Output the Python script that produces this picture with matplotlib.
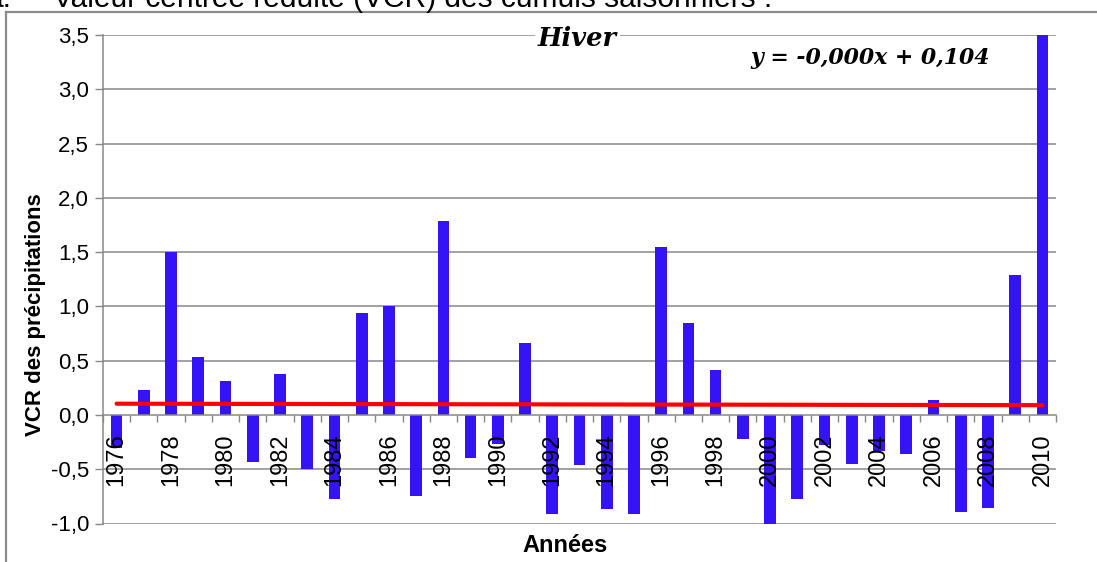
import matplotlib.pyplot as plt
from matplotlib.lines import Line2D
import numpy as np

plt.rcParams['font.family'] = ['Liberation Sans', 'DejaVu Sans']

# winter precipitation, standardised anomaly (VCR) per year
years = list(range(1976, 2011))
vcr = [-0.30, 0.23, 1.50, 0.53, 0.31, -0.43, 0.38, -0.50, -0.77, 0.94,
       1.00, -0.75, 1.79, -0.40, -0.27, 0.66, -0.91, -0.46, -0.87, -0.91,
       1.55, 0.85, 0.41, -0.22, -1.00, -0.77, -0.28, -0.45, -0.33, -0.36,
       0.14, -0.89, -0.86, 1.29, 3.50]

# linear trend y = a*x + b, x = 1..n
trend_slope = -0.0004
trend_intercept = 0.104

y_ticks = [-1.0, -0.5, 0.0, 0.5, 1.0, 1.5, 2.0, 2.5, 3.0, 3.5]

grey = '#878787'
barColor = '#3414F6'

fig = plt.figure(figsize=(10.97, 5.62), dpi=100)
ax = fig.add_axes([103/1097, 1 - 523.5/562, 953/1097, 488.5/562])

xpos = np.arange(len(years))

# horizontal grid behind the bars (the axis itself stays above them
# so the year labels are drawn over the negative bars)
for v in y_ticks:
    if v != 0.0:
        ax.axhline(v, color=grey, linewidth=1.1, zorder=0.5)

ax.bar(xpos, vcr, width=0.43, color=barColor, zorder=2)

trend = [trend_intercept + trend_slope*(i + 1) for i in range(len(years))]
ax.plot(xpos, trend, color='#FF0000', linewidth=3.0, zorder=3, solid_capstyle='round')

ax.set_xlim(-0.5, len(years) - 0.5)
ax.set_ylim(-1.0, 3.5)
ax.set_axisbelow(False)

# y axis
ax.set_yticks(y_ticks)
ax.set_yticklabels([("%.1f" % v).replace('.', ',') for v in y_ticks], fontsize=16)
ax.tick_params(axis='y', direction='out', length=6, width=1, color=grey, pad=4)

# x axis sits on the zero line
ax.spines['top'].set_visible(False)
ax.spines['right'].set_visible(False)
ax.spines['left'].set_color(grey)
ax.spines['left'].set_linewidth(1.1)
ax.spines['bottom'].set_position(('data', 0))
ax.spines['bottom'].set_color(grey)
ax.spines['bottom'].set_linewidth(1.1)

ax.set_xticks(xpos[::2])
ax.set_xticklabels([str(y) for y in years[::2]], rotation=90, fontsize=17)
ax.tick_params(axis='x', which='major', length=0, pad=13)
ax.set_xticks(np.arange(-0.5, len(years), 1.0), minor=True)
ax.tick_params(axis='x', which='minor', direction='out', length=5, width=1, color=grey)

ax.set_ylabel("VCR des précipitations", fontsize=16, fontweight='bold', va='center')
ax.yaxis.set_label_coords(-0.071, 0.427)
ax.set_xlabel("Années", fontsize=17, fontweight='bold', va='center')
ax.xaxis.set_label_coords(0.485, -0.045)

ax.text(0.498, 0.992, "Hiver", transform=ax.transAxes, ha='center', va='center',
        fontsize=18.5, fontweight='bold', fontstyle='italic', family='DejaVu Serif',
        bbox=dict(facecolor='white', edgecolor='none', pad=2), zorder=5)

eq = "y = %.3fx + %.3f" % (trend_slope, trend_intercept)
ax.text(0.805, 0.953, eq.replace('.', ','), transform=ax.transAxes, ha='center', va='center',
        fontsize=15.8, fontweight='bold', fontstyle='italic', family='DejaVu Serif', zorder=5)

# caption above the frame, cut by the top edge
fig.text(12/1097, 1 - 7/562, "a.", fontsize=21.5, va='baseline', ha='right')
fig.text(53/1097, 1 - 7/562, "Valeur centrée réduite (VCR) des cumuls saisonniers :",
         fontsize=21.5, va='baseline', ha='left')

# chart frame
fig.add_artist(Line2D([6/1097, 1.0], [1 - 12/562, 1 - 12/562], color='#8c8c8c', linewidth=1.6))
fig.add_artist(Line2D([6/1097, 6/1097], [1 - 12/562, 0.0], color='#8c8c8c', linewidth=1.6))

fig.savefig("out.png", dpi=100)
